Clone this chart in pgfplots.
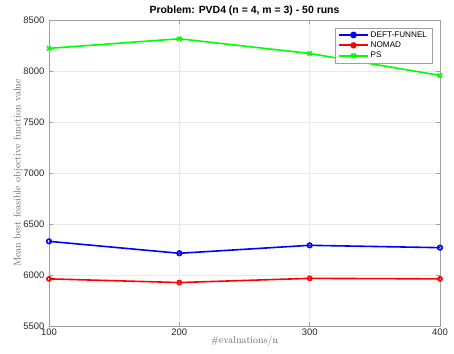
\documentclass[border=0pt]{standalone}
\usepackage{fontspec}
\setsansfont{Liberation Sans}
\usepackage{pgfplots}
\pgfplotsset{compat=1.18}

\definecolor{axgray}{RGB}{160,160,160}
\definecolor{gridgray}{RGB}{232,232,232}
\definecolor{tickgray}{RGB}{40,40,40}

\begin{document}
\begin{tikzpicture}
\begin{axis}[
  scale only axis,
  width=391bp, height=306bp,
  xmin=100, xmax=400, ymin=5500, ymax=8500,
  xtick={100,200,300,400},
  ytick={5500,6000,...,8500},
  grid=major,
  major grid style={gridgray, line width=0.5pt},
  axis line style={axgray, line width=0.6pt},
  tick style={axgray, line width=0.6pt},
  major tick length=4bp,
  tick align=inside,
  /pgf/number format/assume math mode=true,
  /pgf/number format/1000 sep={},
  tick label style={font=\sffamily\fontsize{9.5}{11}\selectfont, text=tickgray},
  yticklabel style={xshift=-1bp},
  xticklabel style={yshift=1bp},
  title={\sffamily\bfseries Problem: PVD4 (n = 4, m = 3) - 50 runs},
  title style={font=\fontsize{10.5}{12}\selectfont, yshift=-5bp},
  xlabel={\#evaluations/n},
  ylabel={Mean best feasible objective function value},
  label style={font=\fontsize{10}{12}\selectfont, text=black!60},
  xlabel style={yshift=6bp},
  ylabel style={yshift=-6bp},
  legend style={font=\sffamily\fontsize{8.2}{10}\selectfont,
    draw=axgray, fill=white, thin,
    at={(0.98,0.975)}, anchor=north east,
    nodes={inner ysep=1.6pt}, inner xsep=3pt},
  legend cell align=left,
  legend image code/.code={%
    \draw[mark repeat=2, mark phase=2, line width=2.1pt]
      plot coordinates {(0cm,0cm) (0.5cm,0cm) (1cm,0cm)};},
]
% DEFT-FUNNEL
\addplot[blue, line width=1.6pt, mark=o, mark size=2.3pt]
  coordinates {(100,6330) (200,6213) (300,6291) (400,6268)};
\addlegendentry{DEFT-FUNNEL}
% NOMAD
\addplot[red, line width=1.6pt, mark=o, mark size=2.1pt]
  coordinates {(100,5962) (200,5926) (300,5967) (400,5962)};
\addlegendentry{NOMAD}
% PS
\addplot[green, line width=1.6pt, mark=x, mark size=3pt]
  coordinates {(100,8222) (200,8316) (300,8172) (400,7957)};
\addlegendentry{PS}
\end{axis}
\path ([xshift=-49bp,yshift=-28bp]current axis.south west)
  rectangle ([xshift=14bp,yshift=20bp]current axis.north east);
\end{tikzpicture}
\end{document}
